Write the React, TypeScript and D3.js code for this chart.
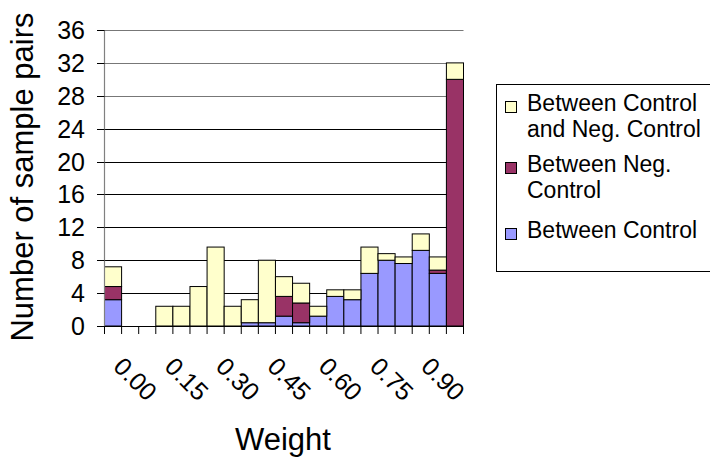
import React from "react";
import * as d3 from "d3";

// Bin labels (lower edge of each weight bin)
const categories = [
  "0.00", "0.05", "0.10", "0.15", "0.20", "0.25", "0.30", "0.35", "0.40", "0.45",
  "0.50", "0.55", "0.60", "0.65", "0.70", "0.75", "0.80", "0.85", "0.90", "0.95", "1.00",
];

// Series values per bin
const betweenControl = [3.2, 0, 0, 0, 0, 0, 0, 0, 0.4, 0.4, 1.2, 0.4, 1.2, 3.6, 3.2, 6.4, 8.0, 7.6, 9.2, 6.4, 0];
const betweenNegControl = [1.6, 0, 0, 0, 0, 0, 0, 0, 0, 0, 2.4, 2.4, 0, 0, 0, 0, 0, 0, 0, 0.4, 30];
const betweenControlAndNeg = [2.4, 0, 0, 2.4, 2.4, 4.8, 9.6, 2.4, 2.8, 7.6, 2.4, 2.4, 1.2, 0.8, 1.2, 3.2, 0.8, 0.8, 2.0, 1.6, 2.0];

const yTicks = [0, 4, 8, 12, 16, 20, 24, 28, 32, 36];
const xTickLabels = ["0.00", "0.15", "0.30", "0.45", "0.60", "0.75", "0.90"];

const seriesNames = ["Between Control", "Between Neg. Control", "Between Control and Neg. Control"];
const seriesColors = ["#9999FF", "#993366", "#FFFFCC"];

const FONT = "'Liberation Sans', Arial, Helvetica, sans-serif";

export default function App() {
  const width = 710;
  const height = 462;
  const left = 104.5;
  const right = 463.5;
  const top = 30;
  const bottom = 326;

  const x = d3.scaleBand<string>().domain(categories).range([left, right]).paddingInner(0).paddingOuter(0);
  const y = d3.scaleLinear().domain([0, 36]).range([bottom, top]);

  const rows = categories.map((c, i) => ({
    cat: c,
    s0: betweenControl[i],
    s1: betweenNegControl[i],
    s2: betweenControlAndNeg[i],
  }));
  const stack = d3.stack<any>().keys(["s0", "s1", "s2"]);
  const layers = stack(rows);

  const bw = x.bandwidth();

  // legend entries (top to bottom), each with wrapped lines
  const legendItems = [
    { color: seriesColors[2], lines: ["Between Control", "and Neg. Control"], base: 111 },
    { color: seriesColors[1], lines: ["Between Neg.", "Control"], base: 172 },
    { color: seriesColors[0], lines: ["Between Control"], base: 238 },
  ];

  return (
    <svg
      width={width}
      height={height}
      style={{ position: "fixed", left: 0, top: 0, background: "#fff" }}
      fontFamily={FONT}
    >
      <rect x={0} y={0} width={width} height={height} fill="#fff" />

      {/* horizontal gridlines */}
      {yTicks.map((t) => (
        <line key={"g" + t} x1={left} x2={right} y1={Math.round(y(t)) + 0.5} y2={Math.round(y(t)) + 0.5} stroke={t >= 28 ? "#777" : "#000"} strokeWidth={1} />
      ))}

      {/* stacked bars */}
      {layers.map((layer, li) =>
        layer.map((d, i) => {
          const h = y(d[0]) - y(d[1]);
          if (h <= 0) return null;
          return (
            <rect
              key={li + "-" + i}
              x={x(categories[i])!}
              y={y(d[1])}
              width={bw}
              height={h}
              fill={seriesColors[li]}
              stroke="#000"
              strokeWidth={1}
            />
          );
        })
      )}

      {/* y axis */}
      <line x1={left} x2={left} y1={top} y2={bottom} stroke="#808080" strokeWidth={1.2} />
      {yTicks.map((t) => (
        <g key={"yt" + t}>
          <line x1={97} x2={left} y1={Math.round(y(t)) + 0.5} y2={Math.round(y(t)) + 0.5} stroke="#000" />
          <text x={85} y={y(t) + 9} textAnchor="end" fontSize={25} fill="#000">
            {t}
          </text>
        </g>
      ))}

      {/* x axis */}
      <line x1={left} x2={right} y1={bottom + 0.5} y2={bottom + 0.5} stroke="#000" />
      {categories.map((c, i) => (
        <line key={"xt" + i} x1={x(c)!} x2={x(c)!} y1={bottom} y2={bottom + 8} stroke="#000" />
      ))}
      <line x1={right} x2={right} y1={bottom} y2={bottom + 8} stroke="#000" />
      {xTickLabels.map((lab) => {
        const cx = x(lab)! + bw / 2 - 1;
        const cy = 368;
        return (
          <text key={"xl" + lab} x={cx} y={cy} fontSize={25} transform={`rotate(45 ${cx} ${cy})`} fill="#000">
            {lab}
          </text>
        );
      })}

      {/* axis titles */}
      <text x={283} y={450} textAnchor="middle" fontSize={31} fill="#000">
        Weight
      </text>
      <text
        transform={`translate(33,177) rotate(-90)`}
        textAnchor="middle"
        fontSize={31}
        fill="#000"
      >
        Number of sample pairs
      </text>

      {/* legend */}
      <rect x={496.5} y={84.5} width={220} height={187} fill="#fff" stroke="#000" strokeWidth={1} />
      {legendItems.map((it, i) => (
        <g key={"lg" + i}>
          <rect x={505.5} y={it.base - 9.5} width={11} height={11} fill={it.color} stroke="#000" strokeWidth={1} />
          {it.lines.map((ln, j) => (
            <text key={j} x={527} y={it.base + j * 26} fontSize={23} fill="#000">
              {ln}
            </text>
          ))}
        </g>
      ))}
    </svg>
  );
}
